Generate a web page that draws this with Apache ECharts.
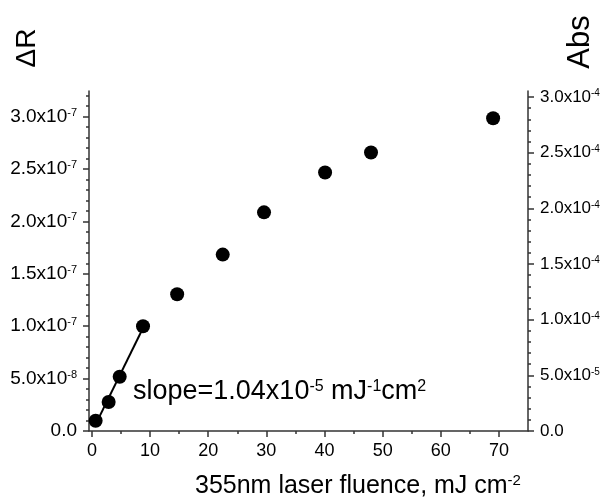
<!DOCTYPE html>
<html><head><meta charset="utf-8">
<script src="https://cdn.jsdelivr.net/npm/echarts@6/dist/echarts.min.js"></script>
<style>html,body{margin:0;padding:0;background:#fff}#c{width:607px;height:497px}</style>
</head><body><div id="c"></div>
<script>
// ---- data ----
const fluence = [0.64, 2.88, 4.78, 8.79, 14.66, 22.5, 29.6, 40.1, 48.0, 69.0];
const deltaR = [0.098e-7, 0.276e-7, 0.517e-7, 1.0e-7, 1.305e-7, 1.683e-7, 2.086e-7, 2.467e-7, 2.657e-7, 2.984e-7];
const fitPointCount = 4;

const xTickValues = [0, 10, 20, 30, 40, 50, 60, 70];
const xMinorTickValues = [5, 15, 25, 35, 45, 55, 65];

const leftTickValues = [0, 0.5e-7, 1.0e-7, 1.5e-7, 2.0e-7, 2.5e-7, 3.0e-7];
const leftTickLabels = [['0.0', ''], ['5.0x10', '-8'], ['1.0x10', '-7'], ['1.5x10', '-7'], ['2.0x10', '-7'], ['2.5x10', '-7'], ['3.0x10', '-7']];
const leftMinorTicks = [0.1, 0.2, 0.3, 0.4, 0.6, 0.7, 0.8, 0.9, 1.1, 1.2, 1.3, 1.4, 1.6, 1.7, 1.8, 1.9, 2.1, 2.2, 2.3, 2.4, 2.6, 2.7, 2.8, 2.9, 3.1, 3.2]; // x1e-7

const rightTickValues = [0, 0.5e-4, 1.0e-4, 1.5e-4, 2.0e-4, 2.5e-4, 3.0e-4];
const rightTickLabels = [['0.0', ''], ['5.0x10', '-5'], ['1.0x10', '-4'], ['1.5x10', '-4'], ['2.0x10', '-4'], ['2.5x10', '-4'], ['3.0x10', '-4']];
const rightMinorTicks = [0.1, 0.2, 0.3, 0.4, 0.6, 0.7, 0.8, 0.9, 1.1, 1.2, 1.3, 1.4, 1.6, 1.7, 1.8, 1.9, 2.1, 2.2, 2.3, 2.4, 2.6, 2.7, 2.8, 2.9]; // x1e-4

const xRange = [-0.5, 75];
const leftRange = [0, 3.244e-7];
const rightRange = [0, 3.054e-4];

const xTitle = ['355nm laser fluence, mJ cm', '-2'];
const leftTitle = 'ΔR';
const rightTitle = 'Abs';
const slopeText = [['slope=1.04x10', 'b'], ['-5', 's'], [' mJ', 'b'], ['-1', 's'], ['cm', 'b'], ['2', 's']];

// ---- chart ----
const FONT = '"Liberation Sans", Arial, sans-serif';
const AX = '#333';

// linear fit of first points
const fx = fluence.slice(0, fitPointCount), fy = deltaR.slice(0, fitPointCount);
const mx = fx.reduce((a, b) => a + b, 0) / fx.length;
const my = fy.reduce((a, b) => a + b, 0) / fy.length;
let sxy = 0, sxx = 0;
fx.forEach((x, i) => { sxy += (x - mx) * (fy[i] - my); sxx += (x - mx) * (x - mx); });
const slope = sxy / sxx, icpt = my - slope * mx;
const fitLine = [[fx[0], icpt + slope * fx[0]], [fx[fx.length - 1], icpt + slope * fx[fx.length - 1]]];

function labFmt(vals, labs) {
  return function (v) {
    let best = 0, bd = Infinity;
    vals.forEach((t, i) => { const d = Math.abs(t - v); if (d < bd) { bd = d; best = i; } });
    const l = labs[best];
    return '{b|' + l[0] + '}' + (l[1] ? '{s|' + l[1] + '}' : '');
  };
}

function yMain(pos, range, vals, labs, fs) {
  return {
    type: 'value', position: pos, min: range[0], max: range[1],
    axisLine: { show: true, onZero: false, lineStyle: { color: AX, width: 1.5 } },
    axisTick: { show: true, length: 6, customValues: vals, lineStyle: { color: AX, width: 1.5 } },
    axisLabel: {
      customValues: vals, margin: 12, formatter: labFmt(vals, labs),
      rich: {
        b: { fontSize: fs, fontFamily: FONT, color: '#000' },
        s: { fontSize: Math.round(fs * 0.6), fontFamily: FONT, color: '#000', verticalAlign: 'top' }
      }
    },
    splitLine: { show: false }
  };
}
function yMinor(pos, range, vals) {
  return {
    type: 'value', position: pos, min: range[0], max: range[1],
    axisLine: { show: false, onZero: false },
    axisTick: { show: true, length: 3, customValues: vals, lineStyle: { color: AX, width: 1.5 } },
    axisLabel: { show: false },
    splitLine: { show: false }
  };
}

const chart = echarts.init(document.getElementById('c'), null, { renderer: 'canvas' });
chart.setOption({
  animation: false,
  backgroundColor: '#fff',
  grid: { left: 89, top: 91, width: 439, height: 340, containLabel: false },
  xAxis: [
    {
      type: 'value', position: 'bottom', min: xRange[0], max: xRange[1],
      axisLine: { show: true, onZero: false, lineStyle: { color: AX, width: 1.5 } },
      axisTick: { show: true, length: 6, customValues: xTickValues, lineStyle: { color: AX, width: 1.5 } },
      axisLabel: { customValues: xTickValues, margin: 11, fontSize: 18, fontFamily: FONT, color: '#000' },
      splitLine: { show: false }
    },
    {
      type: 'value', position: 'bottom', min: xRange[0], max: xRange[1],
      axisLine: { show: false, onZero: false },
      axisTick: { show: true, length: 3, customValues: xMinorTickValues, lineStyle: { color: AX, width: 1.5 } },
      axisLabel: { show: false }, splitLine: { show: false }
    }
  ],
  yAxis: [
    yMain('left', leftRange, leftTickValues, leftTickLabels, 19),
    yMinor('left', leftRange, leftMinorTicks.map(v => v * 1e-7)),
    yMain('right', rightRange, rightTickValues, rightTickLabels, 17),
    yMinor('right', rightRange, rightMinorTicks.map(v => v * 1e-4))
  ],
  series: [
    {
      type: 'line', xAxisIndex: 0, yAxisIndex: 0, data: fitLine, showSymbol: false, symbol: 'none',
      lineStyle: { color: '#000', width: 2 }, z: 2, silent: true
    },
    {
      type: 'scatter', xAxisIndex: 0, yAxisIndex: 0, data: fluence.map((x, i) => [x, deltaR[i]]),
      symbol: 'circle', symbolSize: 14, itemStyle: { color: '#000', opacity: 1 }, z: 3
    }
  ],
  graphic: [
    { type: 'text', x: 27, y: 48, rotation: Math.PI / 2,
      style: { text: leftTitle, fontSize: 28, fontFamily: FONT, fill: '#000', align: 'center', verticalAlign: 'middle' } },
    { type: 'text', x: 580, y: 42, rotation: Math.PI / 2,
      style: { text: rightTitle, fontSize: 31, fontFamily: FONT, fill: '#000', align: 'center', verticalAlign: 'middle' } },
    { type: 'text', x: 195, y: 486,
      style: {
        text: '{b|' + xTitle[0] + '}{s|' + xTitle[1] + '}', align: 'left', verticalAlign: 'middle',
        rich: { b: { fontSize: 25, fontFamily: FONT, fill: '#000', color: '#000' },
                s: { fontSize: 15, fontFamily: FONT, fill: '#000', color: '#000', verticalAlign: 'top' } }
      } },
    { type: 'text', x: 133, y: 392,
      style: {
        text: slopeText.map(p => '{' + p[1] + '|' + p[0] + '}').join(''), align: 'left', verticalAlign: 'middle',
        rich: { b: { fontSize: 27, fontFamily: FONT, fill: '#000', color: '#000' },
                s: { fontSize: 16, fontFamily: FONT, fill: '#000', color: '#000', verticalAlign: 'top' } }
      } }
  ]
});
</script>
</body></html>
